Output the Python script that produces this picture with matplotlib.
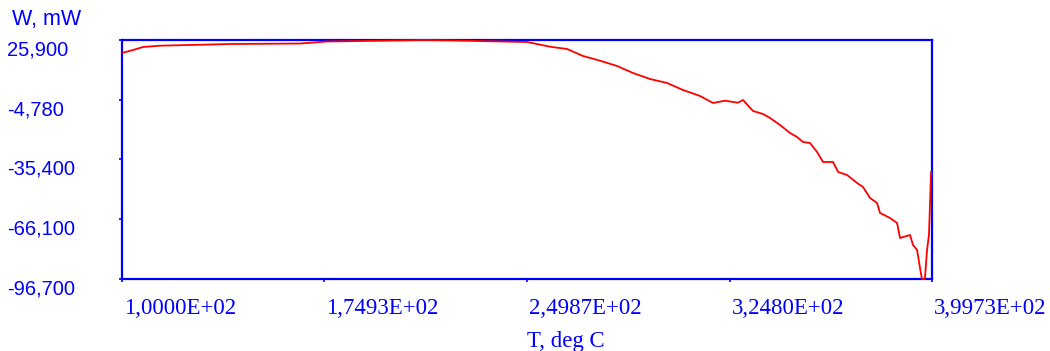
import numpy as np
import matplotlib
matplotlib.use('Agg')
import matplotlib.pyplot as plt
import matplotlib.transforms as mtransforms

# curva de potencia x temperatura
temp = [100.4, 104.1, 107.8, 114.1, 140.0, 165.9, 175.9, 201.0, 212.1, 223.2,
        249.9, 258.4, 264.7, 270.6, 276.9, 283.2, 289.1, 295.4, 301.7, 307.6,
        313.9, 318.7, 323.1, 327.9, 329.8, 333.5, 337.2, 339.8, 343.5, 347.2,
        349.8, 352.0, 354.6, 357.2, 359.4, 363.1, 365.0, 368.3, 372.0, 374.2,
        376.8, 379.4, 380.5, 384.2, 386.8, 387.9, 391.6, 392.7, 394.2, 395.3,
        396.0, 397.1, 397.9, 398.6, 399.4]
potencia = [19.39, 20.77, 22.31, 22.98, 23.85, 24.10, 25.13, 25.64, 25.90, 25.64,
            24.87, 22.46, 21.28, 17.69, 15.28, 12.56, 8.97, 5.89, 3.84, 0.25,
            -2.83, -6.42, -5.24, -6.26, -4.88, -10.52, -12.06, -14.11, -17.70, -21.81,
            -23.86, -26.42, -26.94, -31.55, -36.68, -36.68, -41.81, -43.35, -47.45, -49.51,
            -55.15, -57.71, -62.84, -65.41, -67.97, -75.67, -74.13, -79.26, -81.82, -91.06,
            -96.70, -96.70, -81.82, -74.13, -41.81]

x_ticks = [100.00, 174.93, 249.87, 324.80, 399.73]
x_labels = ['1,0000E+02', '1,7493E+02', '2,4987E+02', '3,2480E+02', '3,9973E+02']
y_ticks = [25.9, -4.78, -35.4, -66.1, -96.7]
y_labels = ['25,900', '-4,780', '-35,400', '-66,100', '-96,700']

azul = '#0000ff'
vermelho = '#ff0000'

fig = plt.figure(figsize=(10.5, 3.51), dpi=100)
ax = fig.add_axes([122 / 1050, 1 - 279 / 351, 810 / 1050, 239 / 351])

ax.plot(temp, potencia, color=vermelho, linewidth=1.3, zorder=3, clip_on=False)

ax.set_xlim(x_ticks[0], x_ticks[-1])
ax.set_ylim(y_ticks[-1], y_ticks[0])

for s in ax.spines.values():
    s.set_color(azul)
    s.set_linewidth(1.6)

ax.set_xticks(x_ticks)
ax.set_yticks(y_ticks)
ax.set_xticklabels([])
ax.set_yticklabels([])
ax.tick_params(axis='both', colors=azul, length=2.5, width=1.2, direction='out')

# rotulos do eixo y alinhados a esquerda, um pouco abaixo do tick
trans_y = mtransforms.blended_transform_factory(fig.transFigure, ax.transData)
trans_y = mtransforms.offset_copy(trans_y, fig=fig, x=0, y=-10, units='dots')
for v, lab in zip(y_ticks, y_labels):
    fig.text(7 / 1050, v, lab, transform=trans_y, color=azul, fontsize=14.5,
             family='Liberation Sans', ha='left', va='center')

# rotulos do eixo x a direita do tick
trans_x = mtransforms.blended_transform_factory(ax.transData, fig.transFigure)
trans_xl = mtransforms.offset_copy(trans_x, fig=fig, x=2, y=0, units='dots')
for v, lab in zip(x_ticks, x_labels):
    fig.text(v, 1 - 308 / 351, lab, transform=trans_xl, color=azul, fontsize=16.5,
             family='Liberation Serif', ha='left', va='center')

fig.text(x_ticks[2], 4 / 351, 'T, deg C', transform=trans_x, color=azul,
         fontsize=16.5, family='Liberation Serif', ha='left', va='baseline')
fig.text(12 / 1050, 1 - 20 / 351, 'W, mW', color=azul, fontsize=15.5,
         family='Liberation Sans', ha='left', va='center')

fig.savefig('out.png', dpi=100, facecolor='white')
